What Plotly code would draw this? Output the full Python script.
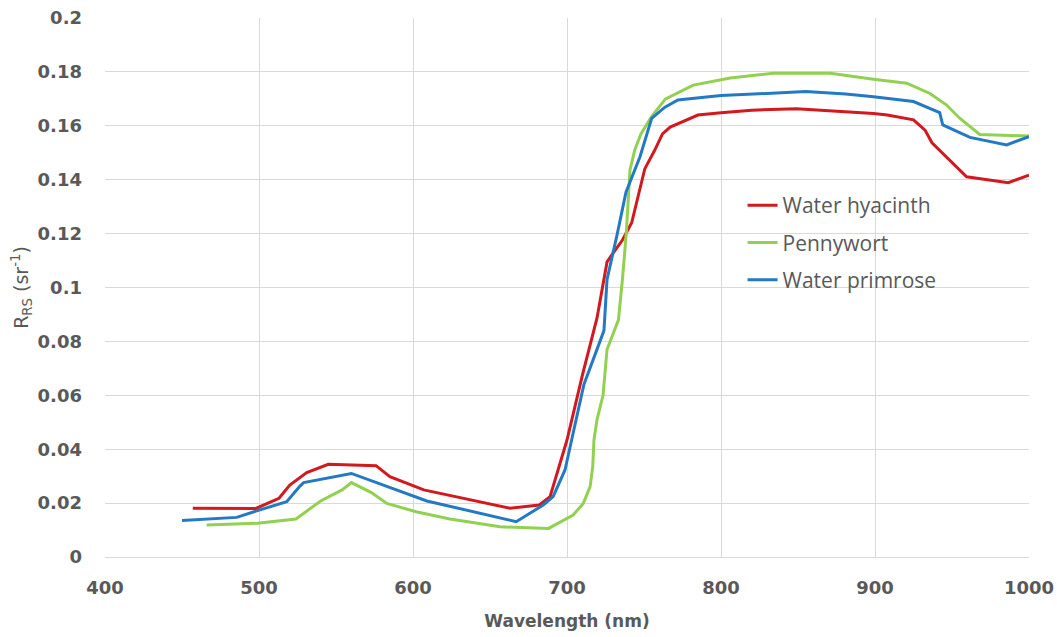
import plotly.graph_objects as go

# Remote-sensing reflectance spectra of three floating aquatic plants
hyacinth_wl = [457, 498, 513, 520, 531, 545, 576, 585, 607, 663, 682, 689, 700, 710,
               719.5, 726, 729, 736, 742, 750.5, 757, 762, 767, 785, 800, 820, 849,
               899, 908, 925, 932.5, 937, 959.5, 986.5, 1000]
hyacinth_rrs = [0.0181, 0.0180, 0.0218, 0.0267, 0.0313, 0.0344, 0.0339, 0.0298, 0.0249,
                0.0181, 0.0193, 0.0224, 0.0434, 0.0675, 0.0887, 0.1095, 0.1120, 0.1176,
                0.1240, 0.1440, 0.1510, 0.1570, 0.1595, 0.1640, 0.1648, 0.1658, 0.1663,
                0.1646, 0.1640, 0.1622, 0.1584, 0.1537, 0.1411, 0.1389, 0.1417]

pennywort_wl = [466, 499, 524, 540, 554, 560, 573, 583, 602, 624, 656.5, 688, 704, 710.6,
                715, 716.7, 717.5, 719.5, 723.4, 726, 733.4, 736, 738.6, 740.9, 744, 748,
                755, 764, 782, 806, 834, 871, 899, 920.6, 935.7, 946.5, 955, 968, 1000]
pennywort_rrs = [0.0119, 0.0125, 0.0141, 0.0208, 0.0249, 0.0276, 0.0239, 0.0199, 0.0168,
                 0.0141, 0.0112, 0.0106, 0.0156, 0.0199, 0.0261, 0.0335, 0.0434, 0.0510,
                 0.0600, 0.0770, 0.0880, 0.1030, 0.1210, 0.1436, 0.1510, 0.1570, 0.1635,
                 0.1700, 0.1751, 0.1777, 0.1795, 0.1795, 0.1773, 0.1758, 0.1720, 0.1677,
                 0.1628, 0.1568, 0.1562]

primrose_wl = [450, 485.5, 500, 518, 526.6, 529, 560, 609, 667, 684.6, 691, 698.7, 703,
               711, 724, 726, 732.5, 738.3, 747.4, 755, 763.6, 772, 800, 834, 855, 881,
               899, 925, 942, 944, 961.7, 985.5, 1000]
primrose_rrs = [0.0135, 0.0147, 0.0174, 0.0205, 0.0263, 0.0276, 0.0310, 0.0208, 0.0131,
                0.0193, 0.0224, 0.0323, 0.0434, 0.0640, 0.0840, 0.1030, 0.1195, 0.1354,
                0.1485, 0.1628, 0.1669, 0.1696, 0.1712, 0.1722, 0.1727, 0.1718, 0.1708,
                0.1690, 0.1649, 0.1603, 0.1557, 0.1529, 0.1560]

series_names = ["Water hyacinth", "Pennywort", "Water primrose"]
series_colors = ["#D2191E", "#92D050", "#2479C4"]

y_ticks = [0, 0.02, 0.04, 0.06, 0.08, 0.1, 0.12, 0.14, 0.16, 0.18, 0.2]
y_tick_text = ["0", "0.02", "0.04", "0.06", "0.08", "0.1", "0.12", "0.14", "0.16", "0.18", "0.2"]
x_ticks = [400, 500, 600, 700, 800, 900, 1000]

fig = go.Figure()
for name, color, wl, rrs in zip(series_names, series_colors,
                                [hyacinth_wl, pennywort_wl, primrose_wl],
                                [hyacinth_rrs, pennywort_rrs, primrose_rrs]):
    fig.add_trace(go.Scatter(x=wl, y=rrs, mode="lines", name=name, legendgroup=name,
                             line=dict(color=color, width=3)))

grid = "#D9D9D9"
tick_font = dict(family="DejaVu Sans", size=18, color="#595959", weight="bold")

fig.update_layout(
    width=1057, height=637,
    margin=dict(l=105, r=28, t=18, b=80),
    paper_bgcolor="white", plot_bgcolor="white",
    showlegend=True,
    legend=dict(x=0.690, y=0.690, xanchor="left", yanchor="top",
                bgcolor="rgba(0,0,0,0)", borderwidth=0, tracegroupgap=7,
                font=dict(family="Open Sans", size=21, color="#595959")),
    xaxis=dict(range=[400, 1000], tickvals=x_ticks, showgrid=True, gridcolor=grid,
               gridwidth=1, zeroline=False, showline=True, linecolor=grid, linewidth=1,
               ticks="", tickfont=tick_font, ticklabelstandoff=14, automargin=False,
               title=dict(text="Wavelength (nm)", standoff=18,
                          font=dict(family="DejaVu Sans", size=17, color="#595959",
                                    weight="bold"))),
    yaxis=dict(range=[0, 0.2], tickvals=y_ticks, ticktext=y_tick_text, showgrid=True,
               gridcolor=grid, gridwidth=1, zeroline=False, showline=False, ticks="",
               tickfont=tick_font, ticklabelstandoff=22, automargin=False,
               title=dict(text="R<sub>RS</sub> (sr<sup>-1</sup>)", standoff=3,
                          font=dict(family="DejaVu Sans", size=19, color="#595959"))),
    shapes=[dict(type="rect", xref="paper", yref="paper",
                 x0=(775 - 105) / 924, x1=(943 - 105) / 924,
                 y0=(557 - 315) / 539, y1=(557 - 178) / 539,
                 fillcolor="white", line=dict(width=0), layer="between")],
)

fig.write_html("out.html")
